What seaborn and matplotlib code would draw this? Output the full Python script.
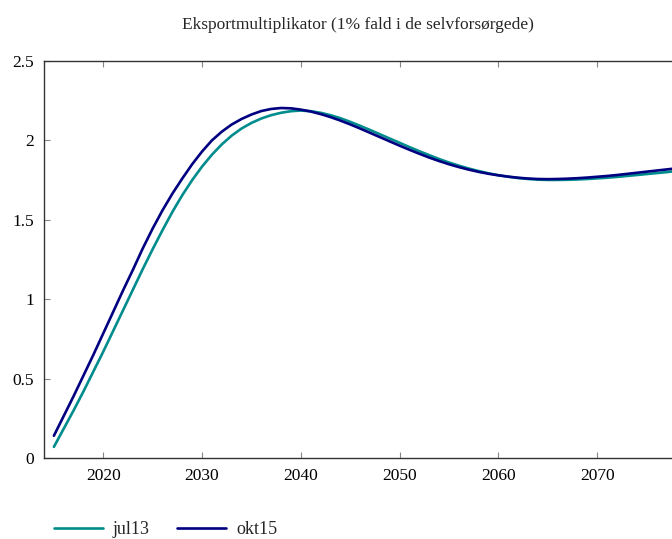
import numpy as np
import pandas as pd
import matplotlib
matplotlib.use("Agg")
import matplotlib.pyplot as plt
import seaborn as sns

years = list(range(2015, 2081))

jul13 = [0.07, 0.185, 0.30, 0.42, 0.545, 0.67, 0.80, 0.93, 1.06, 1.19,
         1.315, 1.435, 1.55, 1.655, 1.75, 1.835, 1.91, 1.975, 2.03, 2.075,
         2.11, 2.138, 2.159, 2.174, 2.184, 2.188, 2.184, 2.174, 2.159, 2.14,
         2.117, 2.092, 2.066, 2.039, 2.012, 1.985, 1.958, 1.932, 1.907, 1.883,
         1.861, 1.841, 1.823, 1.807, 1.793, 1.781, 1.771, 1.763, 1.757, 1.753,
         1.751, 1.751, 1.752, 1.754, 1.757, 1.761, 1.765, 1.770, 1.776, 1.782,
         1.788, 1.794, 1.800, 1.807, 1.813, 1.820]

okt15 = [0.14, 0.265, 0.39, 0.52, 0.65, 0.785, 0.92, 1.055, 1.185, 1.32,
         1.445, 1.56, 1.665, 1.76, 1.85, 1.93, 2.00, 2.055, 2.10, 2.135,
         2.163, 2.185, 2.198, 2.204, 2.202, 2.194, 2.182, 2.166, 2.147, 2.125,
         2.101, 2.075, 2.048, 2.021, 1.994, 1.967, 1.941, 1.916, 1.892, 1.870,
         1.850, 1.832, 1.816, 1.802, 1.790, 1.780, 1.772, 1.765, 1.760, 1.757,
         1.756, 1.757, 1.759, 1.762, 1.766, 1.771, 1.776, 1.782, 1.789, 1.796,
         1.803, 1.810, 1.817, 1.824, 1.831, 1.838]

series_names = ["jul13", "okt15"]
colors = ["#008C8C", "#000080"]

y_ticks = [0, 0.5, 1, 1.5, 2, 2.5]
y_tick_labels = ["0", "0.5", "1", "1.5", "2", "2.5"]
x_ticks = [2020, 2030, 2040, 2050, 2060, 2070]

df = pd.DataFrame({
    "year": years * 2,
    "value": jul13 + okt15,
    "serie": ["jul13"] * len(years) + ["okt15"] * len(years),
})

sns.set_theme(style="white")
plt.rcParams["font.family"] = ["Liberation Serif", "DejaVu Serif"]
plt.rcParams["font.size"] = 12.5

fig = plt.figure(figsize=(6.72, 5.39), dpi=100)
ax = fig.add_axes([0.0655, 0.1503, 0.970, 0.7365])

sns.lineplot(data=df, x="year", y="value", hue="serie",
             hue_order=series_names, palette=colors, linewidth=1.9,
             ax=ax, legend=False)

ax.set_xlim(2014, 2080)
ax.set_ylim(0, 2.5)
ax.set_xticks(x_ticks)
ax.set_yticks(y_ticks)
ax.set_yticklabels(y_tick_labels)
ax.set_xlabel("")
ax.set_ylabel("")

for side in ["left", "bottom", "top", "right"]:
    ax.spines[side].set_visible(True)
    ax.spines[side].set_color("#333333")
    ax.spines[side].set_linewidth(1.0)

ax.tick_params(axis="both", direction="in", length=4, width=0.8,
               color="#888888", labelsize=12.5, labelcolor="black")
ax.tick_params(axis="x", top=True, bottom=True, pad=7)
ax.tick_params(axis="y", left=True, right=False, pad=7)

fig.text(0.533, 0.954, "Eksportmultiplikator (1% fald i de selvforsørgede)",
         ha="center", va="center", fontsize=12.5)

handles = [plt.Line2D([], [], color=c, linewidth=1.9) for c in colors]
fig.legend(handles, series_names, loc="center left",
           bbox_to_anchor=(0.080, 0.017), ncol=2, frameon=False,
           handlelength=2.7, handletextpad=0.57, columnspacing=1.5,
           fontsize=13, borderpad=0, borderaxespad=0)

fig.savefig("out.png", dpi=100)
